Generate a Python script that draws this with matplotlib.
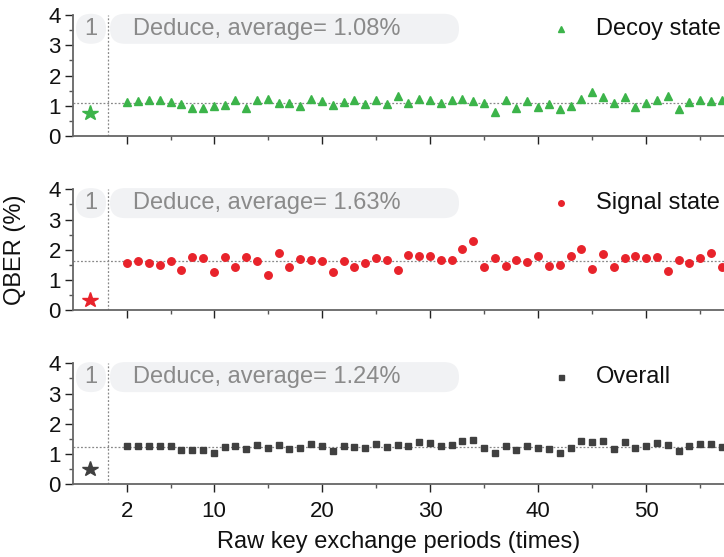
import matplotlib
matplotlib.use("Agg")
import matplotlib.pyplot as plt
from matplotlib.patches import FancyBboxPatch
from matplotlib.ticker import FixedLocator, NullFormatter
import numpy as np

plt.rcParams['font.family'] = ['Liberation Sans', 'DejaVu Sans']

periods = list(range(2, 58))
decoy = [1.13, 1.15, 1.18, 1.19, 1.11, 1.07, 0.91, 0.94, 1.00, 1.01, 1.18, 0.94, 1.20, 1.22,
         1.08, 1.10, 1.00, 1.21, 1.17, 1.01, 1.11, 1.18, 1.06, 1.19, 1.05, 1.31, 1.08, 1.23,
         1.19, 1.10, 1.19, 1.21, 1.15, 1.10, 0.79, 1.18, 0.94, 1.16, 0.97, 1.05, 0.88, 0.99,
         1.21, 1.44, 1.28, 1.08, 1.28, 0.97, 1.08, 1.20, 1.31, 0.88, 1.13, 1.18, 1.16, 1.19]
signal = [1.56, 1.64, 1.58, 1.51, 1.64, 1.33, 1.75, 1.73, 1.25, 1.77, 1.42, 1.76, 1.64, 1.18,
          1.88, 1.43, 1.71, 1.65, 1.63, 1.27, 1.63, 1.42, 1.56, 1.73, 1.66, 1.34, 1.83, 1.81,
          1.81, 1.65, 1.66, 2.04, 2.30, 1.43, 1.74, 1.45, 1.67, 1.61, 1.81, 1.45, 1.50, 1.79,
          2.02, 1.37, 1.86, 1.42, 1.74, 1.79, 1.72, 1.76, 1.29, 1.66, 1.56, 1.72, 1.90, 1.42]
overall = [1.25, 1.27, 1.26, 1.27, 1.25, 1.13, 1.15, 1.15, 1.05, 1.22, 1.25, 1.16, 1.31, 1.20,
           1.29, 1.18, 1.20, 1.33, 1.27, 1.10, 1.25, 1.22, 1.19, 1.33, 1.22, 1.29, 1.27, 1.39,
           1.37, 1.26, 1.30, 1.42, 1.45, 1.20, 1.05, 1.26, 1.13, 1.28, 1.21, 1.17, 1.05, 1.21,
           1.43, 1.40, 1.43, 1.17, 1.40, 1.20, 1.26, 1.36, 1.30, 1.09, 1.25, 1.33, 1.34, 1.23]
first_period = [0.75, 0.35, 0.50]   # period 1 values (star)
averages = [1.08, 1.63, 1.24]
labels = ["Decoy state", "Signal state", "Overall"]
colors = ["#3cb44a", "#e8232b", "#404040"]
markers = ["^", "o", "s"]
msizes = [6.4, 5.4, 4.8]
leg_msizes = [4.2, 4.0, 3.6]
series = [decoy, signal, overall]

W, H = 7.24, 5.57
fig = plt.figure(figsize=(W, H), dpi=100)

left = 73.3 / 724
width = 1.0 - left
tops_px = [15.0, 189.3, 363.3]
h_px = 121.0

tick_major = [2, 10, 20, 30, 40, 50]
tick_minor = [6, 15, 25, 35, 45, 55]

axes = []
for i in range(3):
    top = tops_px[i]
    ax = fig.add_axes([left, (557 - top - h_px) / 557, width, h_px / 557])
    axes.append(ax)
    ax.set_xlim(-3, 57.2)
    ax.set_ylim(0, 4)
    for s in ['top', 'right']:
        ax.spines[s].set_visible(False)
    for s in ['left', 'bottom']:
        ax.spines[s].set_color('#666666')
        ax.spines[s].set_linewidth(1.3)
    ax.xaxis.set_major_locator(FixedLocator(tick_major))
    ax.xaxis.set_minor_locator(FixedLocator(tick_minor))
    ax.yaxis.set_major_locator(FixedLocator([0, 1, 2, 3, 4]))
    ax.yaxis.set_minor_locator(FixedLocator([0.5, 1.5, 2.5, 3.5]))
    ax.tick_params(which='major', direction='out', length=6, width=1, color='#222222',
                   labelsize=16, labelcolor='#111111')
    ax.tick_params(axis='x', which='major', pad=6)
    ax.tick_params(axis='y', which='major', pad=3)
    ax.tick_params(which='minor', direction='out', length=3, width=1, color='#555555')
    if i < 2:
        ax.xaxis.set_major_formatter(NullFormatter())

    # reference lines
    ax.axhline(averages[i], color='#888888', lw=0.9, ls=(0, (1.5, 1.5)), zorder=1)
    ax.axvline(0.25, color='#888888', lw=0.9, ls=(0, (1.5, 1.5)), zorder=1)

    # data
    ax.plot(periods, series[i], ls='none', marker=markers[i], ms=msizes[i],
            color=colors[i], mec=colors[i], zorder=3)
    ax.plot([-1.5], [first_period[i]], ls='none', marker='*', ms=11.5,
            color=colors[i], mec=colors[i], zorder=3, clip_on=False)

    # annotation boxes in inch coordinates
    ytop_in = (557 - (top - 1.2)) / 100
    box_h = 0.30
    p1 = FancyBboxPatch((0.76, ytop_in - box_h), 0.30, box_h,
                        boxstyle='round,pad=0,rounding_size=0.15',
                        transform=fig.dpi_scale_trans, fc='#f1f2f4', ec='none',
                        zorder=0.5, clip_on=False)
    p2 = FancyBboxPatch((1.10, ytop_in - box_h), 3.49, box_h,
                        boxstyle='round,pad=0,rounding_size=0.15',
                        transform=fig.dpi_scale_trans, fc='#f1f2f4', ec='none',
                        zorder=0.5, clip_on=False)
    ax.add_patch(p1)
    ax.add_patch(p2)
    ymid = ytop_in - box_h / 2
    ax.text(0.91, ymid, "1", transform=fig.dpi_scale_trans, ha='center', va='center',
            fontsize=17, color='#8a8a8a', zorder=4)
    ax.text(1.33, ymid, "Deduce, average= %.2f%%" % averages[i], transform=fig.dpi_scale_trans,
            ha='left', va='center', fontsize=17, color='#8a8a8a', zorder=4)

    # legend
    ax.plot([5.61], [ymid], ls='none', marker=markers[i], ms=leg_msizes[i], color=colors[i],
            mec=colors[i], transform=fig.dpi_scale_trans, clip_on=False, zorder=4)
    ax.text(5.96, ymid, labels[i], transform=fig.dpi_scale_trans, ha='left', va='center',
            fontsize=17, color='#111111', zorder=4)

fig.text(15 / 724, 1 - 249.6 / 557, "QBER (%)", rotation=90, ha='center', va='center',
         fontsize=17, color='#111111')
fig.text(398.5 / 724, 1 - 542 / 557, "Raw key exchange periods (times)", ha='center',
         va='center', fontsize=17, color='#111111')

fig.savefig("out.png", dpi=100)
